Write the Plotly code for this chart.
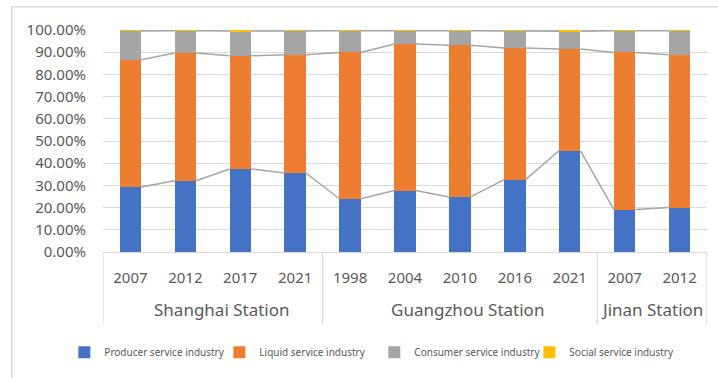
import plotly.graph_objects as go

# Station groups and survey years
stations = ["Shanghai Station", "Guangzhou Station", "Jinan Station"]
group_sizes = [4, 5, 2]
years = ["2007", "2012", "2017", "2021",
         "1998", "2004", "2010", "2016", "2021",
         "2007", "2012"]

# Share of each service-industry type (%)
producer = [29.3, 32.1, 37.4, 35.6, 24.0, 27.7, 24.8, 32.6, 45.6, 19.1, 20.0]
liquid = [57.3, 57.5, 51.0, 53.3, 65.9, 66.0, 68.3, 59.3, 45.8, 70.8, 68.9]
consumer = [13.0, 10.1, 11.1, 10.7, 9.8, 6.0, 6.6, 7.7, 8.0, 9.8, 10.8]
social = [0.4, 0.3, 0.5, 0.4, 0.3, 0.3, 0.3, 0.4, 0.6, 0.3, 0.3]

series = [
    ("Producer service industry", producer, "#4472C4"),
    ("Liquid service industry", liquid, "#ED7D31"),
    ("Consumer service industry", consumer, "#A5A5A5"),
    ("Social service industry", social, "#FFC000"),
]

TEXT = "#595959"
GRID = "#d9d9d9"
FONT = "Noto Sans"
BAR_W = 0.39

x = list(range(len(years)))
fig = go.Figure()

for name, vals, color in series:
    fig.add_trace(go.Bar(
        x=x, y=[v / 100 for v in vals], name=name, width=BAR_W,
        marker=dict(color=color, line=dict(width=0)),
        hoverinfo="skip",
    ))

# Series lines joining the top of each stacked segment between adjacent bars
cum = [0.0] * len(x)
for name, vals, color in series:
    cum = [c + v for c, v in zip(cum, vals)]
    lx, ly = [], []
    for i in range(len(x) - 1):
        lx += [x[i] + BAR_W / 2, x[i + 1] - BAR_W / 2, None]
        ly += [cum[i] / 100, cum[i + 1] / 100, None]
    fig.add_trace(go.Scatter(
        x=lx, y=ly, mode="lines", showlegend=False, hoverinfo="skip",
        line=dict(color="#a6a6a6", width=1.5),
    ))

# Group dividers below the axis and station labels
shapes = []
bounds = [-0.5]
for n in group_sizes:
    bounds.append(bounds[-1] + n)
for b in bounds:
    shapes.append(dict(type="line", xref="x", yref="paper", x0=b, x1=b,
                       y0=0, y1=-0.327, line=dict(color=GRID, width=1.2)))

# Outer chart border
shapes.append(dict(type="rect", xref="paper", yref="paper",
                   x0=-0.151, x1=1.03, y0=-0.6, y1=1.105,
                   line=dict(color=GRID, width=1.5), layer="below"))

annotations = []
label_shift = [9, 8, 0]
for k, name in enumerate(stations):
    cx = (bounds[k] + bounds[k + 1]) / 2
    annotations.append(dict(
        text=name, x=cx, y=-0.26, xref="x", yref="paper",
        showarrow=False, xanchor="center", yanchor="middle",
        xshift=label_shift[k],
        font=dict(family=FONT, size=17, color=TEXT),
    ))

fig.update_layout(
    width=718, height=378,
    margin=dict(l=103, r=11, t=30, b=126, autoexpand=False),
    paper_bgcolor="white", plot_bgcolor="white",
    barmode="stack", bargap=0.6,
    shapes=shapes, annotations=annotations,
    legend=dict(
        orientation="h", traceorder="normal",
        x=-0.064, xanchor="left", y=-0.452, yanchor="middle",
        entrywidth=110, entrywidthmode="pixels",
        font=dict(family=FONT, size=10, color=TEXT),
        itemclick=False, itemdoubleclick=False,
    ),
    xaxis=dict(
        range=[-0.5, len(years) - 0.5], tickvals=x, ticktext=years,
        showgrid=False, zeroline=False, showline=False, ticks="",
        ticklabelstandoff=15,
        tickfont=dict(family=FONT, size=15, color=TEXT),
    ),
    yaxis=dict(
        range=[0, 1], dtick=0.1, tickformat=".2%",
        showgrid=True, gridcolor=GRID, gridwidth=1.2,
        zeroline=True, zerolinecolor=GRID, zerolinewidth=1.2,
        ticks="", ticklabelstandoff=16,
        tickfont=dict(family=FONT, size=15, color=TEXT),
    ),
    showlegend=True,
)

fig.write_html("out.html")
